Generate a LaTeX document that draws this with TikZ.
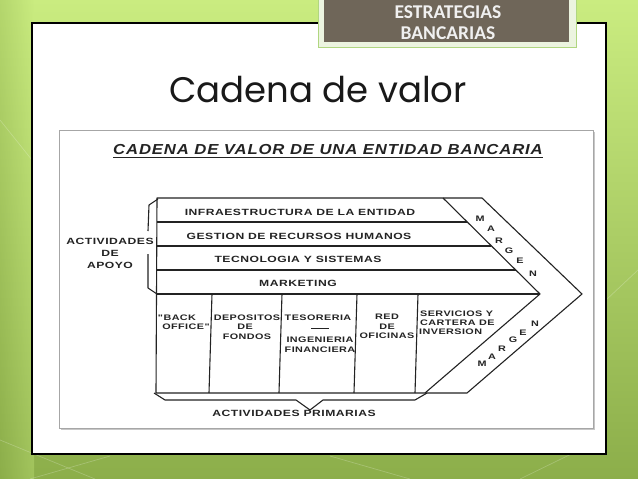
\documentclass[tikz,border=0pt]{standalone}
\usepackage{fontspec}
\setmainfont{Liberation Sans}
\newfontfamily\dfont[LetterSpace=5.5,FakeStretch=1.35]{Liberation Sans}
\newfontfamily\tfont[LetterSpace=6,FakeStretch=1.15]{Liberation Sans}
\newfontfamily\hfont{Poppins}
\newfontfamily\cfont{Carlito}
\definecolor{bgtop}{RGB}{202,236,128}
\definecolor{bgbot}{RGB}{140,174,74}
\definecolor{tabbrown}{RGB}{111,102,89}
\definecolor{tabedge}{RGB}{236,244,224}
\definecolor{tabline}{RGB}{176,214,128}
\definecolor{ink}{RGB}{35,35,35}
\tikzset{
  ln/.style={draw=ink, line width=1.1pt, line join=round},
  rowlbl/.style={font=\dfont\bfseries\fontsize{9}{10}\selectfont, inner sep=0pt, text=ink},
  collbl/.style={font=\dfont\bfseries\fontsize{8}{9}\selectfont, inner sep=0pt, text=ink},
  mg/.style={font=\dfont\bfseries\fontsize{8}{9}\selectfont, inner sep=0pt, text=ink},
  tabtxt/.style={font=\cfont\bfseries\fontsize{19.5}{19.5}\selectfont, text=white!94!black, inner sep=0pt},
}
\begin{document}
\begin{tikzpicture}[x=1pt,y=-1pt]
\useasboundingbox (0,0) rectangle (638,479);
% background
\shade[top color=bgtop, bottom color=bgbot] (0,0) rectangle (638,479);
\shade[left color=bgbot, right color=bgtop, opacity=0.35] (0,0) rectangle (34,479);
\begin{scope}[white, opacity=0.22, line width=0.7pt]
\draw (0,440) -- (95,479);
\draw (30,479) -- (110,456);
\draw (330,456) -- (410,479);
\draw (600,440) -- (520,479);
\draw (606,300) -- (638,270);
\draw (0,120) -- (32,160);
\end{scope}
% white panel
\draw[fill=white, draw=black, line width=1.2pt] (32,23) rectangle (606,454);
% inner picture frame
\fill[black!22] (61,132) rectangle (595,430);
\draw[fill=white, draw=black!35, line width=0.8pt] (59,130) rectangle (593,428);
% tab
\fill[tabedge, draw=tabline, line width=0.8pt] (318,-2) rectangle (576,47);
\fill[tabbrown] (324,-2) rectangle (569,42);
\node[tabtxt] (tab1) at (448,12) {ESTRATEGIAS};
\node[tabtxt] (tab2) at (448,33) {BANCARIAS};
% heading
\node[font=\hfont\fontsize{35.5}{35.5}\selectfont, anchor=base west, inner sep=0pt, text=black!90] (head) at (169,102) {Cadena de valor};
% diagram title
\node[font=\tfont\bfseries\itshape\fontsize{14.5}{14.5}\selectfont, inner sep=0pt, text=ink] (title) at (328,150) {CADENA DE VALOR DE UNA ENTIDAD BANCARIA};
\draw[ink, line width=1pt] ([yshift=-2pt]title.south west) -- ([yshift=-2pt]title.south east);
% chain outline
\coordinate (tl) at (157,198);
\coordinate (ti) at (443,198);
\coordinate (to) at (482,198);
\coordinate (ai) at (540,294);
\coordinate (ao) at (582,294);
\coordinate (bi) at (425,393);
\coordinate (bo) at (467,393);
\coordinate (bl) at (156,393);
\draw[ln] (tl) -- (to) -- (ao) -- (bo) -- (bl) -- cycle;
\draw[ln] (ti) -- (ai) -- (bi);
\draw[ln] (157,222) -- (467,222);
\draw[ln] (157,246) -- (491,246);
\draw[ln] (157,270) -- (516,270);
\draw[ln] (157,294) -- (ai);
\draw[ln] (212,294) -- (209,393);
\draw[ln] (282,294) -- (279,393);
\draw[ln] (357,294) -- (354,393);
\draw[ln] (418,294) -- (415,393);
% brackets
\draw[ln] (154,393) -- (165,400) -- (296,400) -- (310,410) -- (323,400) -- (415,400) -- (427,393);
\draw[ln] (158,199) -- (149,205) -- (148,231);
\draw[ln] (148,254) -- (148,288) -- (157,294);
% support labels
\node[rowlbl] (r1) at (300,212) {INFRAESTRUCTURA DE LA ENTIDAD};
\node[rowlbl] (r2) at (299,236) {GESTION DE RECURSOS HUMANOS};
\node[rowlbl] (r3) at (298,259) {TECNOLOGIA Y SISTEMAS};
\node[rowlbl] (r4) at (298,283) {MARKETING};
\node[rowlbl] (ap1) at (110,241) {ACTIVIDADES};
\node[rowlbl] (ap2) at (110,253) {DE};
\node[rowlbl] (ap3) at (110,265) {APOYO};
% primary labels
\node[collbl] (c1a) at (177,318) {"BACK};
\node[collbl] (c1b) at (186,327) {OFFICE"};
\node[collbl] (c2a) at (247,318) {DEPOSITOS};
\node[collbl] (c2b) at (245,327) {DE};
\node[collbl] (c2c) at (247,337) {FONDOS};
\node[collbl] (c3a) at (318,318) {TESORERIA};
\node[collbl] (c3b) at (320,340) {INGENIERIA};
\node[collbl] (c3c) at (320,350) {FINANCIERA};
\coordinate (dsh1) at (311,328);
\coordinate (dsh2) at (329,328);
\draw[ink, line width=0.9pt] (dsh1) -- (dsh2);
\node[collbl] (c4a) at (387,317) {RED};
\node[collbl] (c4b) at (387,327) {DE};
\node[collbl] (c4c) at (387,336) {OFICINAS};
\node[collbl, anchor=west] (c5a) at (420,314) {SERVICIOS Y};
\node[collbl, anchor=west] (c5b) at (420,323) {CARTERA DE};
\node[collbl, anchor=west] (c5c) at (419,332) {INVERSION};
\node[rowlbl] (prim) at (294,413) {ACTIVIDADES PRIMARIAS};
% margen upper
\node[mg] (mu1) at (480,219) {M};
\node[mg] (mu2) at (491,229) {A};
\node[mg] (mu3) at (499,241) {R};
\node[mg] (mu4) at (509,251) {G};
\node[mg] (mu5) at (520,261) {E};
\node[mg] (mu6) at (533,274) {N};
% margen lower
\node[mg] (ml1) at (482,364) {M};
\node[mg] (ml2) at (492,357) {A};
\node[mg] (ml3) at (502,349) {R};
\node[mg] (ml4) at (513,340) {G};
\node[mg] (ml5) at (523,333) {E};
\node[mg] (ml6) at (535,324) {N};
\end{tikzpicture}
\end{document}
